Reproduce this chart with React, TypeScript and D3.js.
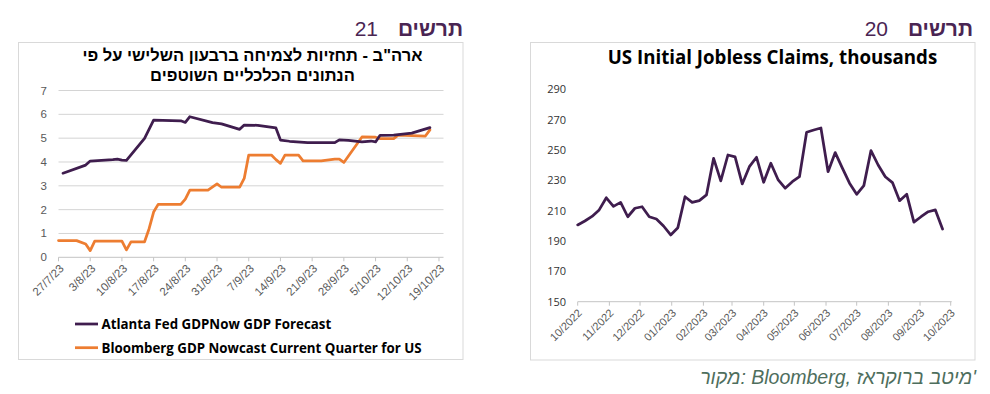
import React, { useLayoutEffect, useRef, useState } from 'react';
import * as d3 from 'd3';

// ---------- Chart 21 data (GDP nowcasts) ----------
const atlantaDates = ['2023-07-28','2023-08-02','2023-08-03','2023-08-08','2023-08-09','2023-08-10','2023-08-11','2023-08-15','2023-08-17','2023-08-23','2023-08-24','2023-08-25','2023-08-30','2023-09-01','2023-09-05','2023-09-06','2023-09-09','2023-09-13','2023-09-14','2023-09-16','2023-09-20','2023-09-26','2023-09-27','2023-09-29','2023-10-02','2023-10-04','2023-10-05','2023-10-06','2023-10-09','2023-10-13','2023-10-17'];
const atlantaValues = [3.53,3.87,4.04,4.10,4.12,4.08,4.07,4.99,5.76,5.73,5.66,5.90,5.65,5.60,5.37,5.55,5.54,5.43,4.92,4.87,4.81,4.81,4.93,4.91,4.84,4.88,4.84,5.12,5.13,5.21,5.44];

const bloombergDates = ['2023-07-27','2023-07-31','2023-08-02','2023-08-03','2023-08-04','2023-08-10','2023-08-11','2023-08-12','2023-08-15','2023-08-16','2023-08-17','2023-08-18','2023-08-23','2023-08-24','2023-08-25','2023-08-29','2023-08-31','2023-09-01','2023-09-05','2023-09-06','2023-09-07','2023-09-12','2023-09-13','2023-09-14','2023-09-15','2023-09-18','2023-09-19','2023-09-23','2023-09-26','2023-09-27','2023-09-28','2023-10-02','2023-10-05','2023-10-06','2023-10-09','2023-10-10','2023-10-16','2023-10-17'];
const bloombergValues = [0.70,0.70,0.56,0.28,0.68,0.68,0.31,0.65,0.65,1.20,1.90,2.22,2.22,2.44,2.82,2.82,3.08,2.94,2.94,3.31,4.29,4.29,4.10,3.94,4.29,4.29,4.05,4.05,4.12,4.12,3.98,5.05,5.04,4.98,4.98,5.13,5.09,5.35];

const gdpYTicks = [0, 1, 2, 3, 4, 5, 6, 7];
const gdpTitleLines = ['ארה"ב - תחזיות לצמיחה ברבעון השלישי על פי', 'הנתונים הכלכליים השוטפים'];
const gdpSeriesNames = ['Atlanta Fed GDPNow GDP Forecast', 'Bloomberg GDP Nowcast Current Quarter for US'];

// ---------- Chart 20 data (jobless claims) ----------
const claimsDates = ['2022-10-01','2022-10-08','2022-10-15','2022-10-22','2022-10-29','2022-11-05','2022-11-12','2022-11-19','2022-11-26','2022-12-03','2022-12-10','2022-12-17','2022-12-24','2022-12-31','2023-01-07','2023-01-14','2023-01-21','2023-01-28','2023-02-04','2023-02-11','2023-02-18','2023-02-25','2023-03-04','2023-03-11','2023-03-18','2023-03-25','2023-04-01','2023-04-08','2023-04-15','2023-04-22','2023-04-29','2023-05-06','2023-05-13','2023-05-20','2023-05-27','2023-06-03','2023-06-10','2023-06-17','2023-06-24','2023-07-01','2023-07-08','2023-07-15','2023-07-22','2023-07-29','2023-08-05','2023-08-12','2023-08-19','2023-08-26','2023-09-02','2023-09-09','2023-09-16','2023-09-23'];
const claimsValues = [200.6,203.2,206.2,210.5,218.5,212.8,215.5,206.0,211.6,212.6,206.0,204.5,199.9,194.0,198.8,219.2,215.5,216.6,220.4,244.5,229.6,246.7,245.5,227.6,239.0,245.2,228.7,241.3,230.5,224.8,229.1,232.4,261.7,263.2,264.5,235.7,248.3,238.0,228.1,220.8,226.5,249.6,240.1,232.4,228.5,216.6,220.8,202.4,206.0,209.3,210.5,197.9];
const claimsYTicks = [150, 170, 190, 210, 230, 250, 270, 290];
const claimsTitle = 'US Initial Jobless Claims, thousands';

// source line "מקור: Bloomberg, מיטב ברוקראז'" in visual (left-to-right) runs
const sourcePieces = ['מקור', ':', ' ', 'Bloomberg', ',', ' ', 'מיטב ברוקראז', "'"];

const parse = d3.timeParse('%Y-%m-%d');

const PURPLE = '#3f1d4e';
const ORANGE = '#ED7D31';
const HEAD = '#4a2553';
const GRID = '#d4d4d4';
const AXIS = '#c4c4c4';
const TICKTXT = '#595959';
const ARIAL = '"Liberation Sans", Arial, "DejaVu Sans", sans-serif';
const SEGOE = '"Open Sans", "Noto Sans", sans-serif';

const SRC_SIZE = 19.5;

function SourceLine() {
  const refs = useRef<(SVGTextElement | null)[]>([]);
  const [xs, setXs] = useState<number[] | null>(null);
  useLayoutEffect(() => {
    const widths = sourcePieces.map((p, i) =>
      p === ' ' ? SRC_SIZE * 0.278 : (refs.current[i] ? refs.current[i]!.getComputedTextLength() : 0));
    const total = d3.sum(widths);
    let x = 976 - total;
    const pos: number[] = [];
    widths.forEach(w => { pos.push(x); x += w; });
    setXs(pos);
  }, []);
  return (
    <g>
      {sourcePieces.map((p, i) => p === ' ' ? null : (
        <text key={i} ref={el => { refs.current[i] = el; }} x={xs ? xs[i] : 0} y={384}
          opacity={xs ? 1 : 0} fontFamily={ARIAL} fontStyle="italic" fontSize={SRC_SIZE} fill="#4e6e5d">{p}</text>
      ))}
    </g>
  );
}

export default function App() {
  // ----- left chart scales -----
  const gx = d3.scaleTime()
    .domain([parse('2023-07-27')!, parse('2023-10-20')!])
    .range([58.5, 443.5]);
  const gy = d3.scaleLinear().domain([0, 7]).range([257.3, 90.5]);
  const gTicks = d3.timeDay.range(parse('2023-07-27')!, parse('2023-10-20')!, 7);
  const gFmt = d3.timeFormat('%-d/%-m/%y');

  const atlanta = atlantaDates.map((d, i) => ({ d: parse(d)!, v: atlantaValues[i] }));
  const bloomberg = bloombergDates.map((d, i) => ({ d: parse(d)!, v: bloombergValues[i] }));
  const gLine = d3.line<{ d: Date; v: number }>().x(p => gx(p.d)).y(p => gy(p.v));

  // ----- right chart scales -----
  const cx = d3.scaleTime()
    .domain([parse('2022-10-01')!, parse('2023-10-01')!])
    .range([577.7, 950.7]);
  const cy = d3.scaleLinear().domain([150, 290]).range([301.7, 89.3]);
  const cTicks = d3.timeMonth.range(parse('2022-10-01')!, parse('2023-10-02')!);
  const cFmt = d3.timeFormat('%m/%Y');
  const claims = claimsDates.map((d, i) => ({ d: parse(d)!, v: claimsValues[i] }));
  const cLine = d3.line<{ d: Date; v: number }>().x(p => cx(p.d)).y(p => cy(p.v));

  return (
    <svg width={990} height={394} style={{ position: 'absolute', left: 0, top: 0, background: '#fff' }}>
      <rect x={0} y={0} width={990} height={394} fill="#fff" />

      {/* headers */}
      <text x={463} y={36} textAnchor="end" fontFamily={ARIAL} fontWeight="bold" fontSize={21} fill={HEAD}>תרשים</text>
      <text x={378} y={36} textAnchor="end" fontFamily={ARIAL} fontSize={21} fill={HEAD}>21</text>
      <text x={973} y={36} textAnchor="end" fontFamily={ARIAL} fontWeight="bold" fontSize={21} fill={HEAD}>תרשים</text>
      <text x={888} y={36} textAnchor="end" fontFamily={ARIAL} fontSize={21} fill={HEAD}>20</text>

      {/* ===== LEFT PANEL ===== */}
      <rect x={18.5} y={42.5} width={444.5} height={317} fill="#fff" stroke="#d9d9d9" strokeWidth={1} />
      {gdpTitleLines.map((t, i) => (
        <text key={i} x={252.5} y={61 + i * 19.5} textAnchor="middle" fontFamily={ARIAL} fontWeight="bold" fontSize={16.5} fill="#000">{t}</text>
      ))}
      {gdpYTicks.map(t => (
        <g key={t}>
          {t > 0 && <line x1={58.5} x2={443.5} y1={gy(t)} y2={gy(t)} stroke={GRID} strokeWidth={1} />}
          <text x={47} y={gy(t) + 4} textAnchor="end" fontFamily={ARIAL} fontSize={11.5} fill={TICKTXT}>{t}</text>
        </g>
      ))}
      <line x1={58.5} x2={443.5} y1={gy(0)} y2={gy(0)} stroke={AXIS} strokeWidth={1} />
      {gTicks.map((t, i) => (
        <g key={i}>
          <line x1={gx(t)} x2={gx(t)} y1={gy(0)} y2={gy(0) + 4} stroke={AXIS} strokeWidth={1} />
          <text transform={`translate(${gx(t) + 6},${gy(0) + 12}) rotate(-45)`} textAnchor="end" fontFamily={ARIAL} fontSize={11.5} fill={TICKTXT}>{gFmt(t)}</text>
        </g>
      ))}
      <path d={gLine(bloomberg) || ''} fill="none" stroke={ORANGE} strokeWidth={2.75} strokeLinejoin="round" strokeLinecap="round" />
      <path d={gLine(atlanta) || ''} fill="none" stroke={PURPLE} strokeWidth={2.75} strokeLinejoin="round" strokeLinecap="round" />

      {/* legend */}
      {gdpSeriesNames.map((n, i) => (
        <g key={n}>
          <line x1={75} x2={98} y1={324 + i * 23.7} y2={324 + i * 23.7} stroke={i === 0 ? PURPLE : ORANGE} strokeWidth={2.75} />
          <text x={101.5} y={329 + i * 23.7} fontFamily={SEGOE} fontWeight="bold" fontSize={13.3} fill="#000">{n}</text>
        </g>
      ))}

      {/* ===== RIGHT PANEL ===== */}
      <rect x={530.5} y={42.5} width={444.5} height={317.5} fill="#fff" stroke="#d9d9d9" strokeWidth={1} />
      <text x={772.5} y={64} textAnchor="middle" fontFamily={SEGOE} fontWeight="bold" fontSize={18.7} fill="#000">{claimsTitle}</text>
      {claimsYTicks.map(t => (
        <text key={t} x={566} y={cy(t) + 4} textAnchor="end" fontFamily={SEGOE} fontSize={11} fill="#333">{t}</text>
      ))}
      <line x1={577.7} x2={951.7} y1={cy(150)} y2={cy(150)} stroke={AXIS} strokeWidth={1} />
      {cTicks.map((t, i) => (
        <g key={i}>
          <line x1={cx(t)} x2={cx(t)} y1={cy(150)} y2={cy(150) + 4} stroke={AXIS} strokeWidth={1} />
          <text transform={`translate(${cx(t) + 5},${cy(150) + 12}) rotate(-45)`} textAnchor="end" fontFamily={ARIAL} fontSize={11} fill={TICKTXT}>{cFmt(t)}</text>
        </g>
      ))}
      <path d={cLine(claims) || ''} fill="none" stroke={PURPLE} strokeWidth={2.75} strokeLinejoin="round" strokeLinecap="round" />

      {/* source */}
      <SourceLine />
    </svg>
  );
}
